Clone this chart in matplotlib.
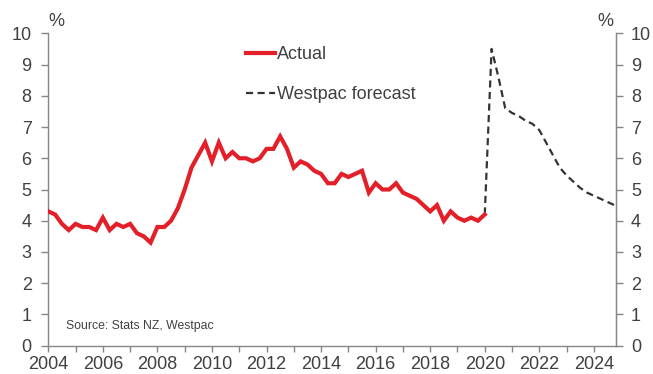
import matplotlib
matplotlib.use("Agg")
import matplotlib.pyplot as plt
import numpy as np

plt.rcParams['font.family'] = ['Liberation Sans', 'DejaVu Sans']

# Quarterly unemployment rate (%), 2004Q1 - 2020Q1
actual = [
    4.3, 4.2, 3.9, 3.7,   # 2004
    3.9, 3.8, 3.8, 3.7,   # 2005
    4.1, 3.7, 3.9, 3.8,   # 2006
    3.9, 3.6, 3.5, 3.3,   # 2007
    3.8, 3.8, 4.0, 4.4,   # 2008
    5.0, 5.7, 6.1, 6.5,   # 2009
    5.9, 6.5, 6.0, 6.2,   # 2010
    6.0, 6.0, 5.9, 6.0,   # 2011
    6.3, 6.3, 6.7, 6.3,   # 2012
    5.7, 5.9, 5.8, 5.6,   # 2013
    5.5, 5.2, 5.2, 5.5,   # 2014
    5.4, 5.5, 5.6, 4.9,   # 2015
    5.2, 5.0, 5.0, 5.2,   # 2016
    4.9, 4.8, 4.7, 4.5,   # 2017
    4.3, 4.5, 4.0, 4.3,   # 2018
    4.1, 4.0, 4.1, 4.0,   # 2019
    4.2,                  # 2020Q1
]
# Westpac forecast, 2020Q1 - 2024Q4
forecast = [
    4.2, 9.5, 8.6, 7.6,   # 2020
    7.45, 7.35, 7.2, 7.1, # 2021
    6.9, 6.5, 6.1, 5.7,   # 2022
    5.45, 5.25, 5.05, 4.9,# 2023
    4.8, 4.7, 4.6, 4.5,   # 2024
]
start_year = 2004
forecast_start = 2020
year_ticks = list(range(2004, 2025, 1))
year_labels = [str(y) if y % 2 == 0 else "" for y in year_ticks]
y_ticks = list(range(0, 11))

t_actual = start_year + np.arange(len(actual)) / 4.0
t_fc = forecast_start + np.arange(len(forecast)) / 4.0

W, H = 653, 374
fig = plt.figure(figsize=(W / 100, H / 100), dpi=100)
left, right, top, bottom = 48.3, 615.7, 33.3, 345.7
ax = fig.add_axes([left / W, 1 - bottom / H, (right - left) / W, (bottom - top) / H])

red = "#E3202A"
grey_txt = "#404040"
spine_c = "#868686"

ax.plot(t_actual, actual, color=red, lw=3.0, solid_joinstyle='miter', label="Actual", zorder=3)
ax.plot(t_fc, forecast, color="#333333", lw=1.6, linestyle=(0, (3.2, 2)), label="Westpac forecast", zorder=2)

ax.set_xlim(2004, 2024.8)
ax.set_ylim(0, 10)
ax.set_xticks(year_ticks)
ax.set_xticklabels(year_labels)
ax.set_yticks(y_ticks)

for s in ['top']:
    ax.spines[s].set_visible(False)
for s in ['left', 'bottom', 'right']:
    ax.spines[s].set_color(spine_c)
    ax.spines[s].set_linewidth(1.0)

ax.tick_params(axis='x', direction='out', length=4, width=1, color=spine_c,
               labelsize=13, labelcolor=grey_txt, pad=3.5)
ax.tick_params(axis='y', direction='out', length=5, width=1, color=spine_c,
               labelsize=13, labelcolor=grey_txt, pad=7)

ax2 = ax.twinx()
ax2.set_ylim(0, 10)
ax2.set_yticks(y_ticks)
for s in ['top', 'left', 'bottom']:
    ax2.spines[s].set_visible(False)
ax2.spines['right'].set_color(spine_c)
ax2.tick_params(axis='y', direction='out', length=5, width=1, color=spine_c,
                labelsize=13, labelcolor=grey_txt, pad=6)

leg = ax.legend(loc='upper left', bbox_to_anchor=((246 - left) / (right - left), 1 - (46 - top) / (bottom - top)),
                frameon=False, fontsize=13, handlelength=1.6, handletextpad=0.1,
                labelspacing=1.3, borderpad=0, borderaxespad=0)
for txt in leg.get_texts():
    txt.set_color(grey_txt)

fig.text(56 / W, 1 - 22 / H, "%", fontsize=13, color=grey_txt, ha='center', va='center')
fig.text(605 / W, 1 - 22 / H, "%", fontsize=13, color=grey_txt, ha='center', va='center')
fig.text(66 / W, 1 - 326 / H, "Source: Stats NZ, Westpac", fontsize=8.8, color=grey_txt,
         ha='left', va='center')

fig.savefig("out.png", dpi=100)
